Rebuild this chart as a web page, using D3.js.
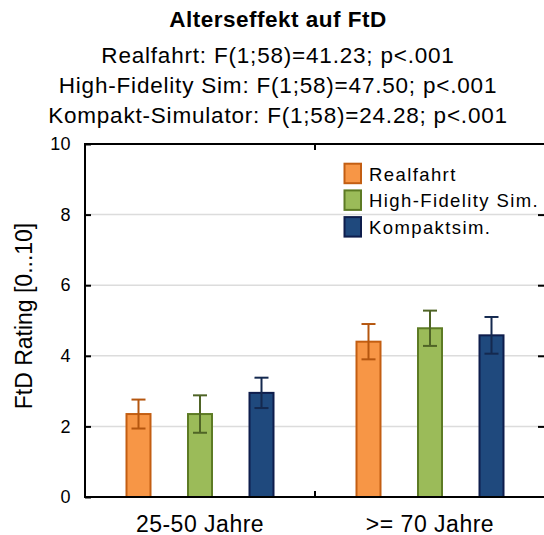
<!DOCTYPE html>
<html>
<head>
<meta charset="utf-8">
<script src="https://cdn.jsdelivr.net/npm/d3@7"></script>
<style>
  body { margin: 0; background: #fff; }
  svg { display: block; font-family: "Liberation Sans", Arial, sans-serif; }
</style>
</head>
<body>
<svg id="chart" width="544" height="535"></svg>
<script>
// ---- data ----
const ageGroups = ["25-50 Jahre", ">= 70 Jahre"];
const seriesNames = ["Realfahrt", "High-Fidelity Sim.", "Kompaktsim."];

const realfahrtMean = [2.35, 4.40];
const realfahrtErr  = [0.41, 0.50];
const hifiMean      = [2.35, 4.78];
const hifiErr       = [0.53, 0.50];
const kompaktMean   = [2.95, 4.58];
const kompaktErr    = [0.43, 0.52];

const yTicks = [0, 2, 4, 6, 8, 10];
const gridTicks = [2, 4, 6, 8];

const titleText = "Alterseffekt auf FtD";
const statLines = [
  "Realfahrt: F(1;58)=41.23; p<.001",
  "High-Fidelity Sim: F(1;58)=47.50; p<.001",
  "Kompakt-Simulator: F(1;58)=24.28; p<.001"
];
const yLabel = "FtD Rating [0...10]";

// ---- styles per series ----
const fills   = ["#F79646", "#9BBB59", "#1F497D"];
const strokes = ["#C35E12", "#5D7B24", "#0E1D4C"];
const errCols = ["#B5560F", "#4F6426", "#14294F"];

const means = [realfahrtMean, hifiMean, kompaktMean];
const errs  = [realfahrtErr, hifiErr, kompaktErr];

// flat table for drawing
const rows = [];
ageGroups.forEach((g, gi) => {
  seriesNames.forEach((s, si) => {
    rows.push({ group: g, series: s, si, mean: means[si][gi], err: errs[si][gi] });
  });
});

// ---- layout ----
const plot = { left: 85, right: 545, top: 144, bottom: 497 };
const svg = d3.select("#chart");

const x = d3.scaleBand().domain(ageGroups).range([plot.left, plot.right]).padding(0);
const xs = d3.scalePoint().domain(seriesNames).range([53.5, 176.5]);
const y = d3.scaleLinear().domain([0, 10]).range([plot.bottom, plot.top]);
const barW = 24;
const capW = 14;

// gridlines
svg.append("g").selectAll("line").data(gridTicks).join("line")
  .attr("x1", plot.left).attr("x2", plot.right)
  .attr("y1", d => y(d)).attr("y2", d => y(d))
  .attr("stroke", "#dcdcdc").attr("stroke-width", 1.5);

// bars
const cx = d => x(d.group) + xs(d.series);
svg.append("g").selectAll("rect").data(rows).join("rect")
  .attr("x", d => cx(d) - barW / 2)
  .attr("y", d => y(d.mean))
  .attr("width", barW)
  .attr("height", d => y(0) - y(d.mean))
  .attr("fill", d => fills[d.si])
  .attr("stroke", d => strokes[d.si])
  .attr("stroke-width", 2);

// error bars
const eb = svg.append("g").selectAll("g").data(rows).join("g")
  .attr("stroke", d => errCols[d.si]).attr("stroke-width", 2).attr("fill", "none");
eb.append("line")
  .attr("x1", cx).attr("x2", cx)
  .attr("y1", d => y(d.mean + d.err)).attr("y2", d => y(d.mean - d.err));
eb.append("line")
  .attr("x1", d => cx(d) - capW / 2).attr("x2", d => cx(d) + capW / 2)
  .attr("y1", d => y(d.mean + d.err)).attr("y2", d => y(d.mean + d.err));
eb.append("line")
  .attr("x1", d => cx(d) - capW / 2).attr("x2", d => cx(d) + capW / 2)
  .attr("y1", d => y(d.mean - d.err)).attr("y2", d => y(d.mean - d.err));

// frame
const frame = svg.append("g").attr("stroke", "#000").attr("stroke-width", 2).attr("fill", "none");
frame.append("line").attr("x1", plot.left).attr("x2", plot.right).attr("y1", plot.top).attr("y2", plot.top);
frame.append("line").attr("x1", plot.left - 1).attr("x2", plot.right).attr("y1", plot.bottom).attr("y2", plot.bottom);
frame.append("line").attr("x1", plot.left).attr("x2", plot.left).attr("y1", plot.top - 1).attr("y2", plot.bottom + 1);

// left axis (inward ticks)
const yAxis = svg.append("g")
  .attr("transform", `translate(${plot.left},0)`)
  .call(d3.axisLeft(y).tickValues(yTicks).tickSizeInner(-6).tickSizeOuter(0).tickPadding(14));
yAxis.select(".domain").remove();
yAxis.selectAll(".tick line").attr("stroke", "#000").attr("stroke-width", 2);
yAxis.selectAll(".tick text")
  .attr("fill", "#000")
  .style("font-family", '"Liberation Sans", Arial, sans-serif')
  .style("font-size", "18px")
  .style("letter-spacing", "0.4px");

// right axis ticks
const yAxisR = svg.append("g")
  .attr("transform", `translate(${plot.right - 1},0)`)
  .call(d3.axisRight(y).tickValues(yTicks.slice(1, -1)).tickSizeInner(-6).tickSizeOuter(0).tickFormat(""));
yAxisR.select(".domain").remove();
yAxisR.selectAll(".tick line").attr("stroke", "#000").attr("stroke-width", 2);

// category divider ticks on top and bottom
const divX = x(ageGroups[1]);
frame.append("line").attr("x1", divX).attr("x2", divX).attr("y1", plot.top).attr("y2", plot.top + 6);
frame.append("line").attr("x1", divX).attr("x2", divX).attr("y1", plot.bottom).attr("y2", plot.bottom - 6);

// x category labels
svg.append("g").selectAll("text").data(ageGroups).join("text")
  .attr("x", d => x(d) + x.bandwidth() / 2)
  .attr("y", 531.5)
  .attr("text-anchor", "middle")
  .style("font-size", "23px")
  .style("letter-spacing", "0.5px")
  .text(d => d);

// y axis title (glyphs slightly widened across the axis)
svg.append("text")
  .attr("transform", "translate(32,316) scale(1.08,1) rotate(-90)")
  .attr("text-anchor", "middle")
  .style("font-size", "23px")
  .text(yLabel);

// title and statistics
svg.append("text")
  .attr("x", 278).attr("y", 26.7)
  .attr("text-anchor", "middle")
  .style("font-size", "22.5px")
  .style("font-weight", "bold")
  .style("letter-spacing", "0.5px")
  .text(titleText);

svg.append("g").selectAll("text").data(statLines).join("text")
  .attr("x", 278)
  .attr("y", (d, i) => 62.7 + i * 30.3)
  .attr("text-anchor", "middle")
  .style("font-size", "22.5px")
  .style("letter-spacing", "0.8px")
  .text(d => d);

// legend
const legend = svg.append("g").selectAll("g").data(seriesNames).join("g")
  .attr("transform", (d, i) => `translate(344.5,${163.7 + i * 26.7})`);
legend.append("rect")
  .attr("width", 16.5).attr("height", 19.5)
  .attr("fill", (d, i) => fills[i])
  .attr("stroke", (d, i) => strokes[i])
  .attr("stroke-width", 2);
legend.append("text")
  .attr("x", 24.5).attr("y", 17)
  .style("font-size", "18.5px")
  .style("letter-spacing", "1.4px")
  .text(d => d);
</script>
</body>
</html>
